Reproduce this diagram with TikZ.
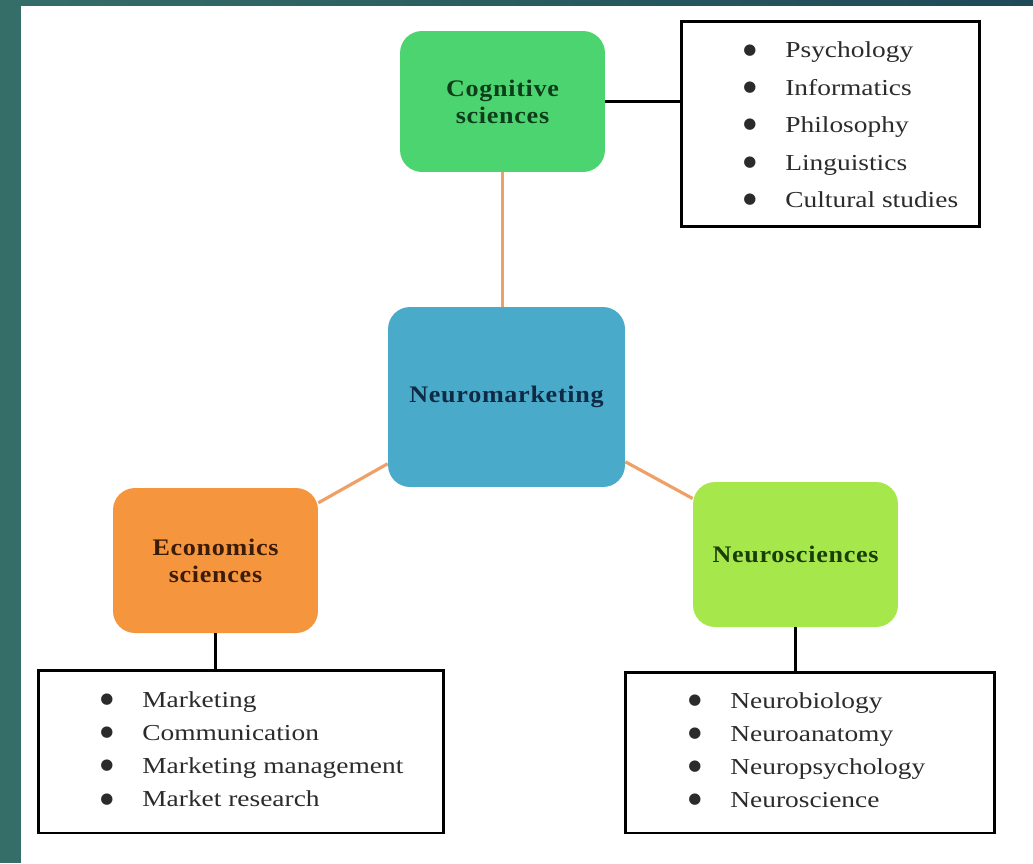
\documentclass[tikz,border=0pt]{standalone}
\usepackage{fontspec}
\setmainfont{Liberation Serif}[FakeStretch=1.2]
\newfontfamily\labelfont{Liberation Serif}[FakeStretch=1.1,LetterSpace=3]
\newfontfamily\dotfont{DejaVu Sans}
\definecolor{frameTeal}{HTML}{356E68}
\definecolor{frameDark}{HTML}{1E4957}
\definecolor{cogGreen}{HTML}{4CD471}
\definecolor{cogText}{HTML}{0E3D1A}
\definecolor{hubBlue}{HTML}{49ABC9}
\definecolor{hubText}{HTML}{0F2A45}
\definecolor{econOrange}{HTML}{F5963F}
\definecolor{econText}{HTML}{3A1C08}
\definecolor{neuroGreen}{HTML}{A6E84C}
\definecolor{neuroText}{HTML}{1B3D08}
\definecolor{linkOrange}{HTML}{EFA066}
\definecolor{listText}{HTML}{2B2B2B}
\newcommand\entry[1]{\makebox[0.84cm][l]{\raisebox{2.2pt}{\dotfont\fontsize{8.5}{8.5}\selectfont ●}}#1}
\begin{document}
\begin{tikzpicture}[x=0.02cm,y=-0.02cm]
\tikzstyle{every node}+=[inner sep=0pt]
\tikzstyle{field}=[rounded corners=0.44cm,minimum width=4.1cm,minimum height=2.9cm,align=center,font=\labelfont\bfseries\fontsize{13.5}{15.5}\selectfont]
\tikzstyle{listbox}=[draw=black,line width=1.7pt]
\tikzstyle{items}=[anchor=west,align=left,text=listText]
\tikzstyle{link}=[draw=linkOrange,line width=1.8pt]
\tikzstyle{tie}=[draw=black,line width=1.7pt]
\fill [white] (0,0) rectangle (1033,863);
\fill [frameTeal] (0,0) rectangle (21,863);
\shade [left color=frameTeal,right color=frameDark] (0,0) rectangle (1033,5);
\useasboundingbox (0,0) rectangle (1033,863);
\node [field,fill=cogGreen,text=cogText,minimum height=2.82cm] (cog) at (502.5,101.5) {Cognitive\\sciences};
\node [field,fill=hubBlue,text=hubText,minimum width=4.74cm,minimum height=3.6cm] (hub) at (506.5,397) {Neuromarketing};
\node [field,fill=econOrange,text=econText] (econ) at (215.5,560.5) {Economics\\sciences};
\node [field,fill=neuroGreen,text=neuroText] (neuro) at (795.5,554.5) {Neurosciences};
\node [listbox,minimum width=5.98cm,minimum height=4.12cm] (cogList) at (830.5,124) {};
\node [items,font=\fontsize{13}{21.3}\selectfont] (cogItems) at (743,125)
  {\entry{Psychology}\\\entry{Informatics}\\\entry{Philosophy}\\\entry{Linguistics}\\\entry{Cultural studies}};
\node [listbox,minimum width=8.12cm,minimum height=3.26cm] (econList) at (241,751.5) {};
\node [items,font=\fontsize{13}{18.8}\selectfont] (econItems) at (100,749.5)
  {\entry{Marketing}\\\entry{Communication}\\\entry{Marketing management}\\\entry{Market research}};
\node [listbox,minimum width=7.4cm,minimum height=3.22cm] (neuroList) at (810,752.5) {};
\node [items,font=\fontsize{13}{18.8}\selectfont] (neuroItems) at (688,750)
  {\entry{Neurobiology}\\\entry{Neuroanatomy}\\\entry{Neuropsychology}\\\entry{Neuroscience}};
\draw [link] (cog.south) -- (cog.south |- hub.north);
\draw [link] (hub) -- (econ);
\draw [link] (hub) -- (neuro);
\draw [tie] (cog.east) -- (cog.east -| cogList.west);
\draw [tie] (econ.south) -- (econ.south |- econList.north);
\draw [tie] (neuro.south) -- (neuro.south |- neuroList.north);
\end{tikzpicture}
\end{document}
